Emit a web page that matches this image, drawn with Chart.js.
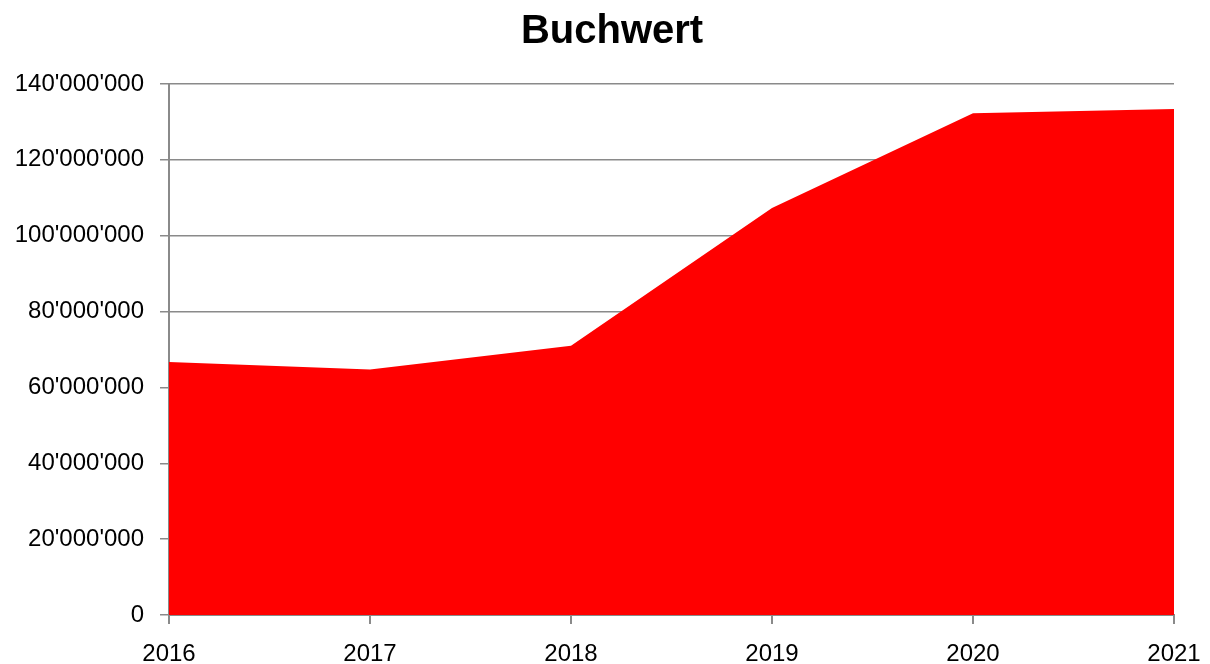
<!DOCTYPE html>
<html>
<head>
<meta charset="utf-8">
<script src="https://cdn.jsdelivr.net/npm/chart.js@4"></script>
<style>
    html, body { margin: 0; padding: 0; background: #fff; }
    #wrap { width: 1210px; height: 664px; }
</style>
</head>
<body>
<div id="wrap"><canvas id="chart" width="1210" height="664"></canvas></div>
<script>
// Data
const years = ['2016', '2017', '2018', '2019', '2020', '2021'];
const bookValues = [66700000, 64700000, 71000000, 107300000, 132300000, 133400000];
const yMin = 0;
const yMax = 140000000;
const yStep = 20000000;

// Colors
const red = '#FF0000';
const gridGray = '#8a8a8a';
const fontFamily = '"Liberation Sans", Arial, sans-serif';

// 140000000 -> 140'000'000
function swissFormat(v) {
    return String(Math.round(v)).replace(/\B(?=(\d{3})+(?!\d))/g, "'");
}

const ctx = document.getElementById('chart').getContext('2d');
new Chart(ctx, {
    type: 'line',
    data: {
        labels: years,
        datasets: [{
            label: 'Buchwert',
            data: bookValues,
            backgroundColor: red,
            borderColor: red,
            borderWidth: 0,
            pointRadius: 0,
            fill: 'origin',
            tension: 0
        }]
    },
    options: {
        responsive: false,
        animation: false,
        layout: {
            padding: { left: 14, right: 0, top: 0, bottom: 0 }
        },
        plugins: {
            legend: { display: false },
            tooltip: { enabled: false },
            title: {
                display: true,
                text: 'Buchwert',
                color: '#000',
                font: { family: fontFamily, size: 40, weight: 'bold' },
                padding: { top: 8, bottom: 28 }
            }
        },
        scales: {
            x: {
                offset: false,
                grid: {
                    drawOnChartArea: false,
                    drawTicks: true,
                    tickLength: 9,
                    color: gridGray,
                    lineWidth: 2
                },
                border: { color: gridGray, width: 2 },
                ticks: {
                    color: '#000',
                    font: { family: fontFamily, size: 24 },
                    padding: 16,
                    maxRotation: 0
                },
                afterFit: function(scale) {
                    scale.height = 49;
                    scale.paddingLeft = 0;
                    scale.paddingRight = 0;
                }
            },
            y: {
                min: yMin,
                max: yMax,
                grid: {
                    color: gridGray,
                    lineWidth: 1.5,
                    tickLength: 9
                },
                border: { color: gridGray, width: 2 },
                ticks: {
                    stepSize: yStep,
                    color: '#000',
                    font: { family: fontFamily, size: 24 },
                    padding: 16,
                    callback: function(value) { return swissFormat(value); }
                },
                afterFit: function(scale) { scale.width = 155; }
            },
            // empty right axis, only reserves the right margin
            yRight: {
                type: 'linear',
                position: 'right',
                grid: { display: false },
                border: { display: false },
                ticks: { display: false },
                afterFit: function(scale) { scale.width = 36; }
            }
        }
    }
});
</script>
</body>
</html>
